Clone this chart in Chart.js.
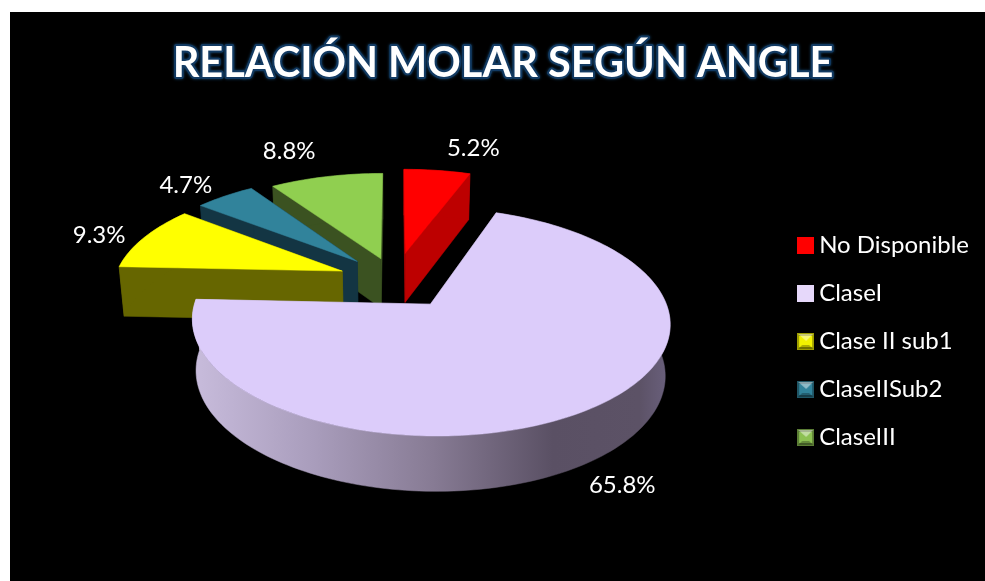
<!DOCTYPE html>
<html><head><meta charset="utf-8">
<style>
html,body{margin:0;padding:0;background:#fff;width:985px;height:581px;overflow:hidden}
#wrap{position:absolute;left:10px;top:12px;width:975px;height:569px;overflow:hidden;background:#000}
canvas{display:block}
</style>
<script src="https://cdn.jsdelivr.net/npm/chart.js@4"></script>
</head><body>
<div id="wrap"><canvas id="c" width="984" height="659" style="width:984px;height:659px"></canvas></div>
<script>
const titleText = 'RELACIÓN MOLAR SEGÚN ANGLE';
const categories = ['No Disponible', 'ClaseI', 'Clase II sub1', 'ClaseIISub2', 'ClaseIII'];
const percentages = [5.2, 65.8, 9.3, 4.7, 8.8];
const topColors = ['#FF0000', '#DCCCFA', '#FFFF00', '#31839B', '#90CF50'];
const wallColors = ['#BD0000', '#8A7D96', '#666600', '#133543', '#3B5221'];
const legendColors = ['#FF0000', '#E6D8FA', '#F2F200', '#31839B', '#8CC152'];
const explodeOffsets = [27, 27, 25, 25, 22];
const labelNudges = [[36,-22],[36,75],[-45,-2],[-39,-11],[-37,-25]];
const drawOrder = [4, 3, 2, 0, 1];

// perspective view of the pie plane (canvas pixels)
const view = {cx:385, cy:268, A:228, B:104, p:0.15, depth:50, shrink:0.982};
function project(u, v, low) {
  const w = 1 + view.p * v;
  let x = view.cx + view.A * u / w, y = view.cy - view.B * v / w;
  if (low) { x = view.cx + (x - view.cx) * view.shrink; y += view.depth / Math.sqrt(w); }
  return [x, y];
}
function fillPoly(ctx, pts, fill) {
  ctx.beginPath();
  pts.forEach((p, i) => i ? ctx.lineTo(p[0], p[1]) : ctx.moveTo(p[0], p[1]));
  ctx.closePath();
  ctx.fillStyle = fill; ctx.fill();
  ctx.strokeStyle = fill; ctx.lineWidth = 0.5; ctx.stroke();
}
function legendSwatch(color, bevel) {
  const s = document.createElement('canvas'); s.width = 17; s.height = 17;
  const g = s.getContext('2d');
  g.fillStyle = color; g.fillRect(0, 0, 17, 17);
  if (bevel) {
    g.fillStyle = 'rgba(0,0,0,0.35)'; g.fillRect(0, 0, 17, 17);
    g.fillStyle = color; g.fillRect(2, 3, 13, 11);
    g.fillStyle = 'rgba(255,255,255,0.45)';
    g.beginPath(); g.moveTo(1,1); g.lineTo(16,1); g.lineTo(9,8); g.closePath(); g.fill();
    g.fillStyle = 'rgba(0,0,0,0.28)';
    g.beginPath(); g.moveTo(1,16); g.lineTo(16,16); g.lineTo(12,12); g.lineTo(5,12); g.closePath(); g.fill();
  }
  return s;
}
const swatches = legendColors.map((c, i) => legendSwatch(c, i >= 2));

const pie3d = {
  id: 'pie3d',
  beforeDraw(chart) {
    const t = chart.titleBlock, o = chart.options.plugins.title, ctx = chart.ctx;
    const y = t.top + o.padding.top + o.font.size * o.font.lineHeight / 2;
    ctx.save();
    ctx.font = `${o.font.weight} ${o.font.size}px ${o.font.family}`;
    ctx.textAlign = 'center'; ctx.textBaseline = 'middle';
    ctx.lineJoin = 'round';
    ctx.strokeStyle = '#123a62'; ctx.lineWidth = 4;
    ctx.shadowColor = '#15466f'; ctx.shadowBlur = 3;
    ctx.strokeText(titleText, (t.left + t.right) / 2, y);
    ctx.restore();
  },
  beforeDatasetDraw(chart, args) {
    const ctx = chart.ctx, arcs = chart.getDatasetMeta(args.index).data;
    const rim = ctx.createLinearGradient(view.cx - 202, 0, view.cx + 278, 0);
    [[0,'#C8BCDC'],[0.25,'#A99DBC'],[0.5,'#877B94'],[0.75,'#5A5064'],[0.93,'#5C5266'],[1,'#6C6280']]
      .forEach(s => rim.addColorStop(s[0], s[1]));
    ctx.save();
    drawOrder.forEach(i => {
      const a = arcs[i], e = a.options.offset / 100;
      const s = a.startAngle, f = a.endAngle, m = (s + f) / 2;
      const ou = Math.cos(m) * e, ov = -Math.sin(m) * e;
      const n = Math.max(8, Math.round((f - s) * 40));
      const edge = [];
      for (let k = 0; k <= n; k++) {
        const t = s + (f - s) * k / n;
        edge.push([ou + Math.cos(t), ov - Math.sin(t)]);
      }
      const apex = [ou, ov], wall = i === 1 ? rim : wallColors[i];
      const top = p => project(p[0], p[1], false), low = p => project(p[0], p[1], true);
      const cuts = [[apex, edge[0]], [apex, edge[n]]]
        .sort((c, d) => top(c[1])[1] - top(d[1])[1]);
      cuts.forEach(c => fillPoly(ctx, [top(c[0]), top(c[1]), low(c[1]), low(c[0])], wall));
      fillPoly(ctx, edge.map(top).concat(edge.slice().reverse().map(low)), wall);
      fillPoly(ctx, [top(apex)].concat(edge.map(top)), a.options.backgroundColor);
    });
    ctx.font = '24px Lato'; ctx.fillStyle = '#fff';
    ctx.textAlign = 'center'; ctx.textBaseline = 'middle';
    arcs.forEach((a, i) => {
      const e = a.options.offset / 100, m = (a.startAngle + a.endAngle) / 2;
      const p = project(Math.cos(m) * (1 + e), -Math.sin(m) * (1 + e), false);
      ctx.fillText(percentages[i].toFixed(1) + '%', p[0] + labelNudges[i][0], p[1] + labelNudges[i][1]);
    });
    ctx.restore();
    return false;
  }
};

new Chart(document.getElementById('c'), {
  type: 'pie',
  data: {
    labels: categories,
    datasets: [{ data: percentages, backgroundColor: topColors, offset: explodeOffsets, borderWidth: 0 }]
  },
  plugins: [pie3d],
  options: {
    responsive: false,
    animation: false,
    layout: { padding: { left: 17, right: 15 } },
    plugins: {
      tooltip: { enabled: false },
      title: {
        display: true, text: titleText, color: '#fff',
        font: { family: 'Lato', size: 41.5, weight: 'bold', lineHeight: 1.2 },
        padding: { top: 27, bottom: 11 }
      },
      legend: {
        position: 'right',
        labels: {
          color: '#fff',
          font: { family: 'Lato', size: 24 },
          padding: 24,
          boxWidth: 3,
          usePointStyle: true,
          pointStyleWidth: 3,
          generateLabels(chart) {
            return categories.map((text, i) => ({
              text, fontColor: '#fff', fillStyle: legendColors[i], strokeStyle: legendColors[i],
              lineWidth: 0, pointStyle: swatches[i], index: i, hidden: false
            }));
          }
        }
      }
    }
  }
});
</script>
</body></html>
